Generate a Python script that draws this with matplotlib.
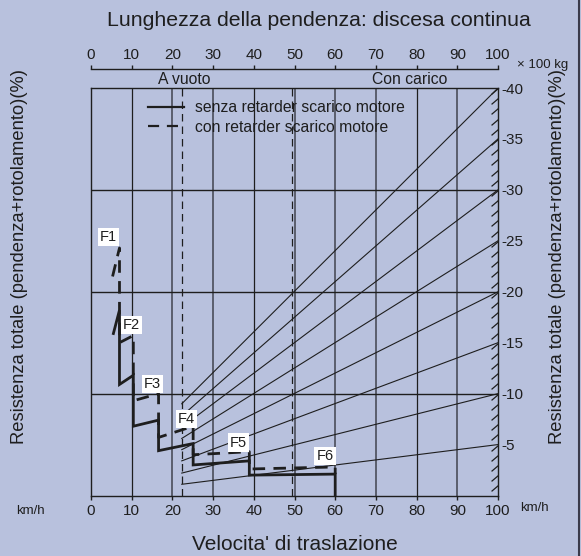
import matplotlib
matplotlib.use('Agg')
import matplotlib.pyplot as plt
from matplotlib.path import Path
from matplotlib.markers import MarkerStyle
from matplotlib.lines import Line2D
from matplotlib.ticker import FixedLocator

plt.rcParams['font.family'] = ['Liberation Sans', 'DejaVu Sans']
plt.rcParams['axes.unicode_minus'] = False

# ---------------- data ----------------
speed_ticks = [0, 10, 20, 30, 40, 50, 60, 70, 80, 90, 100]
weight_ticks = [0, 10, 20, 30, 40, 50, 60, 70, 80, 90, 100]
resist_major = [-5, -10, -15, -20, -25, -30, -35, -40]
resist_minor = [-v for v in range(1, 40)]
grid_speed_dark = [10, 40, 80]
grid_speed_gray = [20, 30, 50, 60, 70, 90]
grid_resist = [-10, -20, -30]

# senza retarder scarico motore (solid)
solid_speed = [5.5, 7.0, 7.0, 10.4, 10.4, 16.6, 16.6, 25.1, 25.1, 38.9, 38.9, 60.0, 60.0]
solid_res = [-15.9, -18.2, -10.9, -11.8, -6.8, -7.4, -4.4, -5.1, -3.0, -3.4, -2.0, -2.1, 0.0]
# con retarder scarico motore (dashed)
dashed_speed = [5.3, 7.0, 7.0, 10.4, 10.4, 16.6, 16.6, 25.1, 25.1, 38.9, 38.9, 60.0, 60.0]
dashed_res = [-21.5, -24.3, -15.0, -15.7, -9.3, -10.0, -5.7, -6.8, -4.0, -4.3, -2.6, -2.8, -2.1]

gear_labels = ['F1', 'F2', 'F3', 'F4', 'F5', 'F6']
gear_label_speed = [4.3, 9.9, 15.1, 23.5, 36.2, 57.5]
gear_label_res = [-25.4, -16.7, -10.9, -7.5, -5.2, -3.9]

# grade fan (weight axis x 100 kg)
fan_weight_start = 22.3
fan_weight_end = 100
fan_left = [-1.1, -2.2, -3.4, -4.5, -5.6, -6.7, -7.8, -9.0]
fan_right = [-5, -10, -15, -20, -25, -30, -35, -40]

empty_weight = 22.3
loaded_weight = 49.3

BG = '#b8c1dd'
INK = '#1e1e1e'
FS = 11.3

fig = plt.figure(figsize=(5.81, 5.56), dpi=100, facecolor=BG)
W, H = 581.0, 556.0
L, R, T, B = 91, 498, 88, 495.5
ax = fig.add_axes([L / W, 1 - B / H, (R - L) / W, (B - T) / H])
ax.set_facecolor(BG)
ax.set_xlim(0, 100)
ax.set_ylim(0, -40)

for s in ax.spines.values():
    s.set_color(INK)
    s.set_linewidth(1.0)

# grid
for g in grid_speed_gray:
    ax.axvline(g, color='#5a5e6c', lw=1.4, zorder=1)
for g in grid_speed_dark:
    ax.axvline(g, color=INK, lw=0.9, zorder=1)
for g in grid_resist:
    ax.axhline(g, color=INK, lw=1.0, zorder=1)

# weight markers
for wv in (empty_weight, loaded_weight):
    ax.axvline(wv, color=INK, lw=0.9, ls=(0, (6, 4)), zorder=2)

# fan lines
for yl, yr in zip(fan_left, fan_right):
    ax.plot([fan_weight_start, fan_weight_end], [yl, yr], color=INK, lw=0.8, zorder=2)

# curves
ax.plot(solid_speed, solid_res, color=INK, lw=2.0, zorder=4, solid_joinstyle='miter')
ax.plot(dashed_speed, dashed_res, color=INK, lw=2.0, ls=(0, (4.5, 3)), zorder=4)

for lab, xs, ys in zip(gear_labels, gear_label_speed, gear_label_res):
    ax.text(xs, ys, lab, fontsize=10.5, ha='center', va='center', color=INK, zorder=6,
            bbox=dict(facecolor='white', edgecolor='none', pad=1.5))

# legend
handles = [Line2D([], [], color=INK, lw=1.6),
           Line2D([], [], color=INK, lw=1.6, ls=(0, (5, 3.5)))]
leg = ax.legend(handles, ['senza retarder scarico motore', 'con retarder scarico motore'],
                loc='upper left', bbox_to_anchor=((148 - L) / (R - L), (B - 100) / (B - T)),
                frameon=False, fontsize=FS, handlelength=2.3, handletextpad=0.7,
                labelspacing=0.3, borderpad=0, borderaxespad=0)
for t in leg.get_texts():
    t.set_color(INK)

# bottom axis
ax.set_xticks(speed_ticks)
ax.tick_params(axis='x', which='major', direction='out', length=3, width=1, colors=INK,
               labelsize=11, pad=3)

# right axis
ax.yaxis.set_ticks_position('right')
ax.yaxis.set_major_locator(FixedLocator(resist_major))
ax.yaxis.set_minor_locator(FixedLocator(resist_minor))
ax.tick_params(axis='y', which='both', direction='in', length=5, width=0.9, colors=INK,
               labelsize=11, pad=2.5)
slant = MarkerStyle(Path([(0, 0), (-1, -0.85)], [Path.MOVETO, Path.LINETO]))
for tk in ax.yaxis.get_major_ticks() + ax.yaxis.get_minor_ticks():
    tk.tick2line.set_marker(slant)
    tk.tick2line.set_markersize(10)
    tk.tick2line.set_markeredgewidth(0.9)
    tk.tick2line.set_markeredgecolor(INK)

# top axis (weight)
ax2 = ax.twiny()
ax2.set_xlim(0, 100)
ax2.set_xticks(weight_ticks)
for k in ('left', 'right', 'bottom'):
    ax2.spines[k].set_visible(False)
ax2.spines['top'].set_position(('outward', 13.7))
ax2.spines['top'].set_color(INK)
ax2.spines['top'].set_linewidth(1.0)
ax2.tick_params(axis='x', direction='out', length=3, width=1, colors=INK, labelsize=11, pad=2)

# texts
fig.text(319 / W, 1 - 20 / H, 'Lunghezza della pendenza: discesa continua', fontsize=15.3,
         ha='center', va='center', color=INK)
fig.text(184 / W, 1 - 79 / H, 'A vuoto', fontsize=FS, ha='center', va='center', color=INK)
fig.text(410 / W, 1 - 79 / H, 'Con carico', fontsize=FS, ha='center', va='center', color=INK)
fig.text(517 / W, 1 - 65 / H, '× 100 kg', fontsize=9.5, ha='left', va='center', color=INK)
fig.text(30 / W, 1 - 511 / H, 'km/h', fontsize=9.5, ha='center', va='center', color=INK)
fig.text(520 / W, 1 - 508 / H, 'km/h', fontsize=9.5, ha='left', va='center', color=INK)
fig.text(295 / W, 1 - 544 / H, "Velocita' di traslazione", fontsize=15, ha='center',
         va='center', color=INK)
ylab = 'Resistenza totale (pendenza+rotolamento)(%)'
fig.text(20 / W, 1 - 256 / H, ylab, fontsize=13.2, rotation=90, ha='center', va='center', color=INK)
fig.text(557 / W, 1 - 256 / H, ylab, fontsize=13.2, rotation=90, ha='center', va='center', color=INK)

fig.add_artist(Line2D([1 - 2.5 / W, 1 - 2.5 / W], [0, 1], transform=fig.transFigure,
                      color='#3a3a4a', lw=1.5))

fig.savefig('out.png', dpi=100, facecolor=BG)
